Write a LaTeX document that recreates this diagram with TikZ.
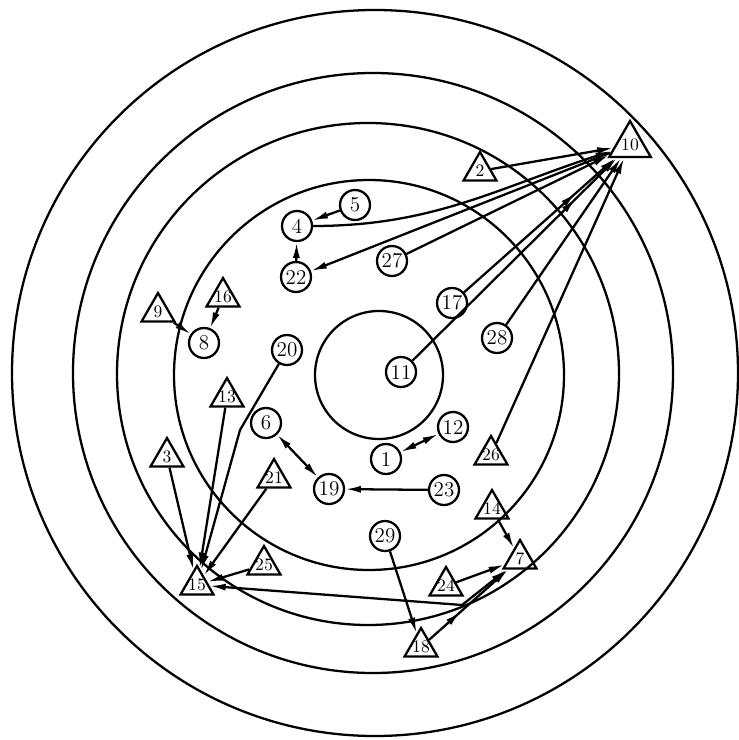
\documentclass[tikz,border=0pt]{standalone}
\usetikzlibrary{arrows.meta,shapes.geometric,decorations.markings}

\begin{document}
\begin{tikzpicture}[x=.02cm,y=-.02cm,line width=1.3pt,
  >={Latex[length=9pt,width=4pt]},
  rnd/.style={circle,draw,inner sep=0pt,minimum size=.6cm,font=\large},
  tri/.style={regular polygon,regular polygon sides=3,draw,inner sep=-5pt,minimum size=.76cm,font=\normalsize},
  midarr/.style={postaction={decorate},
    decoration={markings,mark=at position #1 with {\arrow{>}}}}]
  \useasboundingbox (0,0) rectangle (739,740);

  % rings
  \draw (379,375) circle (64);
  \draw (369,375) circle (195);
  \draw (368,374) circle (251);
  \draw (373,373) circle (300);
  \draw (375,373) circle (363);

  % round nodes
  \node[rnd] (n5) at (355,205) {5};
  \node[rnd] (n4) at (297,226) {4};
  \node[rnd] (n22) at (296,277) {22};
  \node[rnd] (n27) at (392,261) {27};
  \node[rnd] (n17) at (452,303) {17};
  \node[rnd] (n28) at (497,338) {28};
  \node[rnd] (n11) at (401,372) {11};
  \node[rnd] (n8) at (204,343) {8};
  \node[rnd] (n20) at (287,350) {20};
  \node[rnd] (n6) at (266,423) {6};
  \node[rnd] (n12) at (453,427) {12};
  \node[rnd] (n1) at (386,459) {1};
  \node[rnd] (n19) at (329,489) {19};
  \node[rnd] (n23) at (444,490) {23};
  \node[rnd] (n29) at (385,536) {29};

  % triangles
  \node[tri,minimum size=.96cm] (n10) at (630,145) {10};
  \node[tri] (n2) at (480,171) {2};
  \node[tri] (n9) at (158,312) {9};
  \node[tri] (n16) at (223,297) {16};
  \node[tri] (n13) at (227,397) {13};
  \node[tri] (n3) at (167,457) {3};
  \node[tri] (n21) at (274,478) {21};
  \node[tri] (n25) at (264,565) {25};
  \node[tri] (n15) at (197,585) {15};
  \node[tri] (n26) at (491,455) {26};
  \node[tri] (n14) at (492,509) {14};
  \node[tri] (n7) at (520,559) {7};
  \node[tri] (n24) at (446,586) {24};
  \node[tri] (n18) at (421,647) {18};

  \coordinate (k20) at (240,430);
  \coordinate (k7) at (462,605);

  % links
  \draw[->] (n2) -- (n10);
  \draw[->] (n4) to[out=0,in=198] (n10);
  \draw[->] (n10) -- (n22);
  \draw[->] (n27) -- (n10);
  \draw[->,midarr=.74] (n17) -- (n10);
  \draw[->,midarr=.8] (n11) -- (n10);
  \draw[->] (n28) -- (n10);
  \draw[->] (n26) -- (n10);
  \draw[->] (n5) -- (n4);
  \draw[->] (n22) -- (n4);
  \draw[->] (n9) -- (n8);
  \draw[->] (n16) -- (n8);
  \draw[->] (n20) -- (k20) -- (n15);
  \draw[->] (n13) -- (n15);
  \draw[->] (n3) -- (n15);
  \draw[->] (n21) -- (n15);
  \draw[->] (n25) -- (n15);
  \draw[<->] (n15) -- (k7) -- (n7);
  \draw[<->] (n6) -- (n19);
  \draw[->] (n23) -- (n19);
  \draw[<->] (n1) -- (n12);
  \draw[->] (n14) -- (n7);
  \draw[->] (n24) -- (n7);
  \draw[->] (n29) -- (n18);
  \draw[->,midarr=.4] (n18) -- (n7);
\end{tikzpicture}
\end{document}
